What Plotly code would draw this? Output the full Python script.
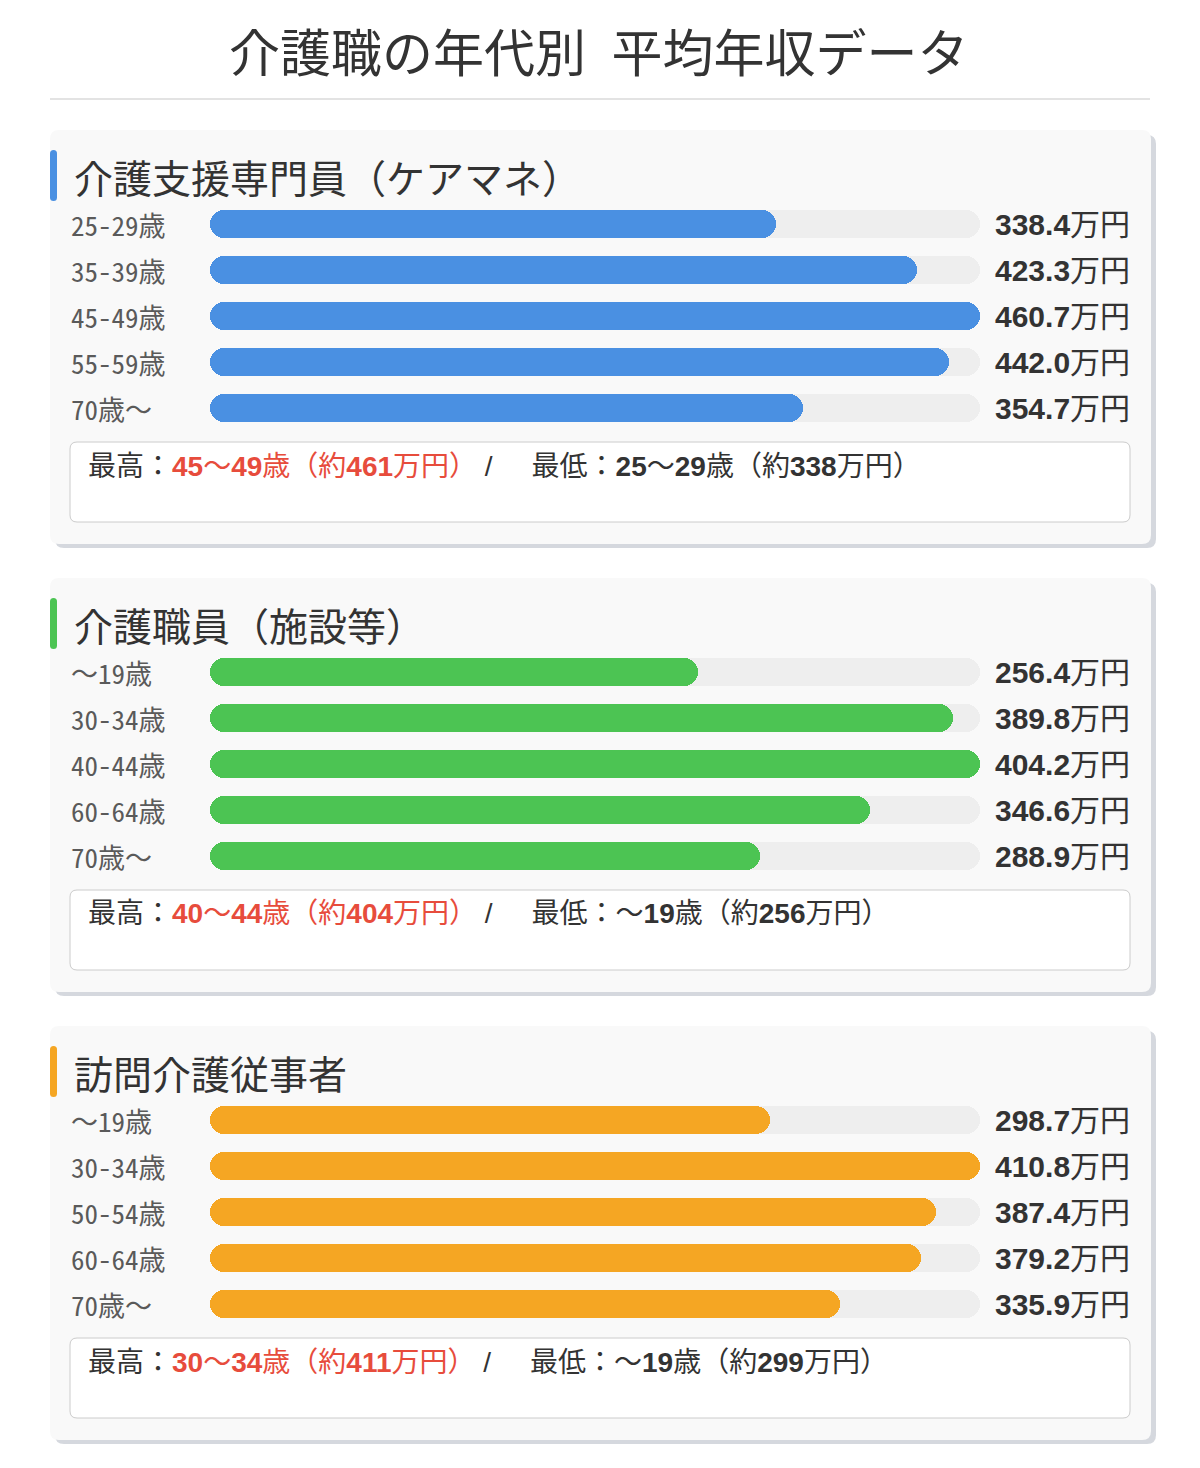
import re
import plotly.graph_objects as go

# データ
title = "介護職の年代別\u2002平均年収データ"
groups = ["介護支援専門員（ケアマネ）", "介護職員（施設等）", "訪問介護従事者"]
ages_care_manager = ["25-29歳", "35-39歳", "45-49歳", "55-59歳", "70歳〜"]
vals_care_manager = [338.4, 423.3, 460.7, 442.0, 354.7]
ages_facility = ["〜19歳", "30-34歳", "40-44歳", "60-64歳", "70歳〜"]
vals_facility = [256.4, 389.8, 404.2, 346.6, 288.9]
ages_visit = ["〜19歳", "30-34歳", "50-54歳", "60-64歳", "70歳〜"]
vals_visit = [298.7, 410.8, 387.4, 379.2, 335.9]

colors = ["#4a90e2", "#4cc453", "#f5a623"]
ages_all = [ages_care_manager, ages_facility, ages_visit]
vals_all = [vals_care_manager, vals_facility, vals_visit]

# ページ余白(8px)ぶんずらす
PAD = 8
W, H = 1200 - PAD, 1468 - PAD
CJK = "Noto Sans CJK JP"
MONO = "Noto Sans Mono CJK JP, Noto Sans CJK JP"
NUM = "Liberation Sans, Arial, Noto Sans CJK JP"


def px(x):
    return (x - PAD) / W


def py(y):
    return 1 - (y - PAD) / H


def rrect(x0, y0, x1, y1, r):
    # 角丸の四角形 (ピクセル座標 -> paper座標)
    pts = [
        f"M {px(x0 + r)} {py(y0)}",
        f"L {px(x1 - r)} {py(y0)}",
        f"Q {px(x1)} {py(y0)} {px(x1)} {py(y0 + r)}",
        f"L {px(x1)} {py(y1 - r)}",
        f"Q {px(x1)} {py(y1)} {px(x1 - r)} {py(y1)}",
        f"L {px(x0 + r)} {py(y1)}",
        f"Q {px(x0)} {py(y1)} {px(x0)} {py(y1 - r)}",
        f"L {px(x0)} {py(y0 + r)}",
        f"Q {px(x0)} {py(y0)} {px(x0 + r)} {py(y0)}",
        "Z",
    ]
    return " ".join(pts)


def bold_nums(s):
    return re.sub(r"(\d+)", r"<b>\1</b>", s)


fig = go.Figure()
shapes = []
annotations = []

# タイトルと区切り線
annotations.append(dict(text=title, xref="paper", yref="paper", x=px(599), y=py(50),
                        xanchor="center", yanchor="middle", showarrow=False,
                        font=dict(family=CJK, size=51, color="#333333")))
shapes.append(dict(type="line", xref="paper", yref="paper", x0=px(50), x1=px(1150),
                   y0=py(99), y1=py(99), line=dict(color="#e3e3e3", width=2)))

for k, (name, ages, vals, col) in enumerate(zip(groups, ages_all, vals_all, colors)):
    off = 448 * k
    n_trk = 2 * k + 1
    n_val = 2 * k + 2
    ax_t = "" if n_trk == 1 else str(n_trk)
    ax_v = str(n_val)
    vmax = max(vals)

    # カード (影 + 本体)
    shapes.append(dict(type="path", xref="paper", yref="paper", layer="below",
                       path=rrect(55, 135 + off, 1156, 548 + off, 9),
                       fillcolor="#d5d8de", line=dict(width=0)))
    shapes.append(dict(type="path", xref="paper", yref="paper", layer="below",
                       path=rrect(50, 130 + off, 1151, 544 + off, 9),
                       fillcolor="#f9f9f9", line=dict(width=0)))
    # アクセントバー
    shapes.append(dict(type="path", xref="paper", yref="paper",
                       path=rrect(50, 150 + off, 57, 201 + off, 3.5),
                       fillcolor=col, line=dict(width=0)))
    # まとめボックス
    shapes.append(dict(type="path", xref="paper", yref="paper", layer="below",
                       path=rrect(70, 442 + off, 1130, 522 + off, 7),
                       fillcolor="#ffffff", line=dict(color="#cccccc", width=1)))

    annotations.append(dict(text=name, xref="paper", yref="paper", x=px(72), y=py(176 + off),
                            xanchor="left", yanchor="middle", showarrow=False,
                            font=dict(family=CJK, size=39, color="#333333")))

    # トラック (下の軸) と値のバー (上の軸)
    fig.add_trace(go.Bar(
        y=ages, x=[vmax] * len(vals), base=[0] * len(vals), orientation="h", width=0.61,
        marker=dict(color="#eeeeee", cornerradius="50%", line=dict(width=0)),
        xaxis="x" + ax_t, yaxis="y" + ax_t, hoverinfo="skip", showlegend=False))
    fig.add_trace(go.Bar(
        y=ages, x=vals, base=[0] * len(vals), orientation="h", width=0.61,
        marker=dict(color=col, cornerradius="50%", line=dict(width=0)),
        xaxis="x" + ax_v, yaxis="y" + ax_v, hoverinfo="skip", showlegend=False))

    for a, v in zip(ages, vals):
        annotations.append(dict(text=a, xref="paper", yref="y" + ax_v, x=px(69), y=a,
                                xanchor="left", yanchor="middle", showarrow=False,
                                font=dict(family=MONO, size=27, color="#5a5a5a")))
        annotations.append(dict(text=f"<b>{v:.1f}</b>万円", xref="paper", yref="y" + ax_v,
                                x=px(993), y=a, xanchor="left", yanchor="middle",
                                showarrow=False,
                                font=dict(family=NUM, size=30, color="#333333")))

    hi = vals.index(max(vals))
    lo = vals.index(min(vals))
    hi_txt = bold_nums(f"{ages[hi].replace('-', '〜')}（約{round(vals[hi])}万円）")
    lo_txt = bold_nums(f"{ages[lo].replace('-', '〜')}（約{round(vals[lo])}万円）")
    summary = (f"最高：<span style='color:#e74c3c'>{hi_txt}</span>"
               f"&nbsp;/&nbsp;&nbsp;&nbsp;&nbsp;&nbsp;最低：{lo_txt}")
    annotations.append(dict(text=summary, xref="paper", yref="paper", x=px(86),
                            y=py(466 + off), xanchor="left", yanchor="middle",
                            showarrow=False,
                            font=dict(family=NUM, size=28, color="#333333")))

    # 軸 (値とトラックは同じ領域)
    top, bottom = 201 + off, 431 + off
    for a in (ax_t, ax_v):
        fig.update_layout(**{
            "xaxis" + a: dict(domain=[px(210), px(980)], range=[0, vmax], visible=False,
                              fixedrange=True, anchor="y" + a),
            "yaxis" + a: dict(domain=[py(bottom), py(top)], type="category",
                              range=[len(ages) - 0.5, -0.5], visible=False,
                              fixedrange=True, anchor="x" + a),
        })

fig.update_layout(
    width=W, height=H,
    margin=dict(l=0, r=0, t=0, b=0),
    paper_bgcolor="#ffffff", plot_bgcolor="rgba(0,0,0,0)",
    barmode="overlay", bargap=0,
    shapes=shapes, annotations=annotations,
    showlegend=False,
)

fig.write_html("out.html")
